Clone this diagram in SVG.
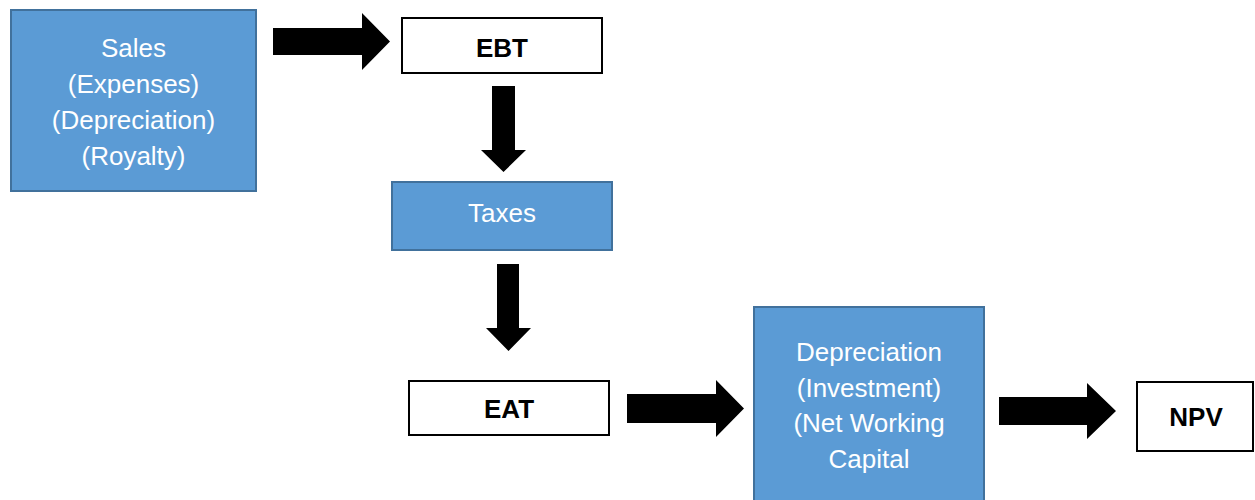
<svg xmlns="http://www.w3.org/2000/svg" width="1255" height="500" viewBox="0 0 1255 500">
<style>
.blue{fill:#5B9BD5;stroke:#41719C;stroke-width:2}
.white{fill:#FFFFFF;stroke:#000000;stroke-width:2}
.lt{font-family:"Liberation Sans",Arial,sans-serif;font-size:26px;fill:#FFFFFF;text-anchor:middle}
.bt{font-family:"Liberation Sans",Arial,sans-serif;font-size:26px;font-weight:bold;fill:#000000;text-anchor:middle}
.arr{fill:#000000}
</style>
<rect width="1255" height="500" fill="#FFFFFF"/>
<g id="sales">
<rect class="blue" x="11" y="10" width="245" height="181"/>
<text class="lt" x="133.5" y="57">Sales</text>
<text class="lt" x="133.5" y="93">(Expenses)</text>
<text class="lt" x="133.5" y="129">(Depreciation)</text>
<text class="lt" x="133.5" y="165">(Royalty)</text>
</g>
<g id="ebt">
<rect class="white" x="402" y="18" width="200" height="55"/>
<text class="bt" x="502" y="57">EBT</text>
</g>
<g id="taxes">
<rect class="blue" x="392" y="182" width="220" height="68"/>
<text class="lt" x="502" y="222">Taxes</text>
</g>
<g id="eat">
<rect class="white" x="409" y="381" width="200" height="54"/>
<text class="bt" x="509" y="418">EAT</text>
</g>
<g id="adjust">
<rect class="blue" x="754" y="307" width="230" height="200"/>
<text class="lt" x="869" y="361">Depreciation</text>
<text class="lt" x="869" y="397">(Investment)</text>
<text class="lt" x="869" y="432">(Net Working</text>
<text class="lt" x="869" y="468">Capital</text>
</g>
<g id="npv">
<rect class="white" x="1137" y="382" width="116" height="69"/>
<text class="bt" x="1196" y="426">NPV</text>
</g>
<g id="connectors">
<polygon class="arr" points="273,28 362,28 362,13 390,41.5 362,70 362,55 273,55"/>
<polygon class="arr" points="492,86 515,86 515,150 526,150 503.5,172 481,150 492,150"/>
<polygon class="arr" points="497,264 519,264 519,328 531,328 508.5,351 486,328 497,328"/>
<polygon class="arr" points="627,394 716,394 716,380 744,408.5 716,437 716,423 627,423"/>
<polygon class="arr" points="999,397 1087,397 1087,383 1116,411 1087,439 1087,425 999,425"/>
</g>
</svg>
